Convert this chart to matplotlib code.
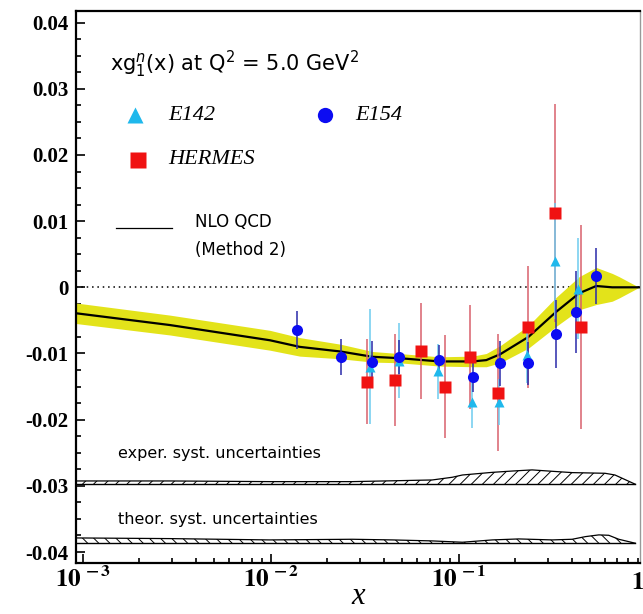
import matplotlib
matplotlib.use("Agg")
import matplotlib.pyplot as plt
from matplotlib.ticker import MultipleLocator, LogLocator, NullFormatter, FuncFormatter
import numpy as np

plt.rcParams["axes.unicode_minus"] = False
plt.rcParams["mathtext.fontset"] = "stix"
plt.rcParams["hatch.linewidth"] = 0.7

# E142 (triangles)
e142_x = [0.0336, 0.048, 0.078, 0.1178, 0.1644, 0.23, 0.325, 0.432]
e142_y = [-0.0120, -0.0111, -0.0127, -0.0173, -0.0173, -0.0102, 0.0040, -0.0002]
e142_err = [0.0087, 0.0057, 0.0042, 0.0040, 0.0035, 0.0042, 0.0088, 0.0076]

# E154 (circles)
e154_x = [0.01387, 0.02356, 0.0344, 0.048, 0.079, 0.1187, 0.167, 0.2336, 0.329, 0.423, 0.54]
e154_y = [-0.00645, -0.0105, -0.01124, -0.01057, -0.0110, -0.01355, -0.0115, -0.0115, -0.00705, -0.0037, 0.00175]
e154_err = [0.0029, 0.0027, 0.0031, 0.0026, 0.0023, 0.0023, 0.0034, 0.0032, 0.0052, 0.0062, 0.0042]

# HERMES (squares)
hermes_x = [0.0325, 0.0461, 0.0634, 0.0847, 0.1153, 0.1625, 0.2336, 0.327, 0.4467]
hermes_y = [-0.01426, -0.0140, -0.00965, -0.0150, -0.01053, -0.0159, -0.00604, 0.0112, -0.00595]
hermes_err = [0.0064, 0.0069, 0.0073, 0.0078, 0.0078, 0.0088, 0.0092, 0.0165, 0.0154]

# NLO QCD (Method 2) curve and its error band half-width
nlo_x = [0.00091, 0.00291, 0.00991, 0.01429, 0.02355, 0.03483, 0.04797, 0.07907, 0.1186,
         0.1403, 0.1667, 0.2350, 0.3304, 0.4375, 0.5395, 0.6561, 0.715, 0.912]
nlo_y = [-0.0039, -0.0057, -0.0080, -0.0090, -0.0097, -0.0105, -0.0107, -0.0112, -0.0112,
         -0.0110, -0.0101, -0.0075, -0.0037, -0.0009, 0.0002, 0.0000, 0.0000, 0.0000]
nlo_err = [0.00155, 0.0015, 0.0015, 0.0014, 0.0011, 0.0008, 0.0007, 0.0007, 0.0008,
           0.0010, 0.0013, 0.0017, 0.0022, 0.0025, 0.0028, 0.0021, 0.0016, 0.0]

# systematic uncertainty bands (drawn as offsets above a baseline)
exp_base = -0.02976
exp_x = [0.00092, 0.0029, 0.0099, 0.0272, 0.0724, 0.0926, 0.1047, 0.151, 0.193, 0.246,
         0.315, 0.402, 0.601, 0.679, 0.871]
exp_h = [0.0005, 0.0005, 0.0004, 0.0004, 0.00065, 0.00106, 0.0014, 0.0018, 0.0020, 0.00217,
         0.00196, 0.00176, 0.00166, 0.0014, 0.0]
th_base = -0.03867
th_x = [0.00092, 0.0029, 0.0099, 0.0272, 0.0445, 0.0724, 0.1047, 0.151, 0.209, 0.315,
        0.402, 0.473, 0.557, 0.629, 0.711, 0.871]
th_h = [0.0008, 0.0007, 0.0005, 0.0006, 0.0005, 0.00035, 0.00015, 0.0005, 0.00065, 0.0005,
        0.0006, 0.0010, 0.00126, 0.0012, 0.0006, 0.0]

C_CYAN, C_CYAN_BAR = "#1fb8ec", "#6dcbef"
C_BLUE, C_BLUE_BAR = "#0c0cf2", "#2a2aaa"
C_RED, C_RED_BAR = "#f01212", "#d8606c"

fig = plt.figure(figsize=(6.43, 6.14), dpi=100)
ax = fig.add_axes([0.1177, 0.0826, 0.8776, 0.9000])
ax.set_xscale("log")
ax.set_xlim(0.000918, 0.922)
ax.set_ylim(-0.0417, 0.0418)

ax.axhline(0, color="black", lw=1.1, ls=(0, (1, 2.5)), zorder=1)

nx, ny, ne = map(np.asarray, (nlo_x, nlo_y, nlo_err))
ax.fill_between(nx, ny - ne, ny + ne, color="#e3e31a", lw=0, zorder=2)
ax.plot(nx, ny, color="black", lw=1.6, zorder=3)

for base, xs, hs, hatch in ((exp_base, exp_x, exp_h, "///"), (th_base, th_x, th_h, "\\\\\\")):
    xs, hs = np.asarray(xs), np.asarray(hs)
    ax.fill_between(xs, base, base + hs, facecolor="none", edgecolor="black", hatch=hatch, lw=0, zorder=2)
    ax.plot(xs, base + hs, color="black", lw=0.9, zorder=3)
    ax.plot([0.000918, 0.871], [base, base], color="black", lw=1.0, zorder=3)

ax.errorbar(hermes_x, hermes_y, yerr=hermes_err, fmt="none", ecolor=C_RED_BAR, elinewidth=1.1, zorder=4)
ax.errorbar(e142_x, e142_y, yerr=e142_err, fmt="none", ecolor=C_CYAN_BAR, elinewidth=1.1, zorder=5)
ax.errorbar(e154_x, e154_y, yerr=e154_err, fmt="none", ecolor=C_BLUE_BAR, elinewidth=1.1, zorder=6)
ax.plot(e142_x, e142_y, "^", color=C_CYAN, ms=7.5, mec="none", zorder=7)
ax.plot(hermes_x, hermes_y, "s", color=C_RED, ms=8, mec="none", zorder=8)
ax.plot(e154_x, e154_y, "o", color=C_BLUE, ms=8, mec="none", zorder=9)

# legend, placed as in the original
T = ax.transAxes
ax.text(0.061, 0.902, r"xg$_1^n$(x) at Q$^2$ = 5.0 GeV$^2$", transform=T, fontsize=15,
        va="center", math_fontfamily="dejavusans")
leg = dict(transform=T, clip_on=False, mec="none")
ax.plot(0.105, 0.811, "^", color=C_CYAN, ms=11, **leg)
ax.plot(0.442, 0.811, "o", color=C_BLUE, ms=11, **leg)
ax.plot(0.110, 0.730, "s", color=C_RED, ms=11, **leg)
lt = dict(transform=T, fontsize=16, family="Liberation Serif", style="italic", va="center")
ax.text(0.164, 0.811, "E142", **lt)
ax.text(0.495, 0.811, "E154", **lt)
ax.text(0.164, 0.730, "HERMES", **lt)
ax.plot([0.072, 0.171], [0.607, 0.607], color="black", lw=0.9, transform=T)
ax.text(0.212, 0.618, "NLO QCD", transform=T, fontsize=12, va="center")
ax.text(0.212, 0.567, "(Method 2)", transform=T, fontsize=12, va="center")
ax.text(0.075, 0.198, "exper. syst. uncertainties", transform=T, fontsize=11.5, va="center")
ax.text(0.075, 0.0796, "theor. syst. uncertainties", transform=T, fontsize=11.5, va="center")

# axes styling
for s in ("left", "bottom", "top"):
    ax.spines[s].set_linewidth(1.6)
ax.spines["right"].set_color("#999999")
ax.spines["right"].set_linewidth(1.0)
ax.yaxis.set_major_locator(MultipleLocator(0.01))
ax.yaxis.set_minor_locator(MultipleLocator(0.0025))
ax.yaxis.set_major_formatter(FuncFormatter(lambda v, p: "0" if abs(v) < 1e-9 else f"{v:.2f}"))
ax.set_xticks([1e-3, 1e-2, 1e-1])
ax.set_xticklabels([r"$\mathbf{10^{\,-3}}$", r"$\mathbf{10^{\,-2}}$", r"$\mathbf{10^{\,-1}}$"])
ax.xaxis.set_minor_locator(LogLocator(base=10, subs=np.arange(2, 10)))
ax.xaxis.set_minor_formatter(NullFormatter())
ax.tick_params(which="both", direction="in", top=False, right=False, width=1.2)
ax.tick_params(which="major", length=6.5)
ax.tick_params(which="minor", length=3.6)
ax.tick_params(axis="y", labelsize=15, pad=5)
ax.tick_params(axis="x", labelsize=18, pad=2)
for lab in ax.get_yticklabels():
    lab.set_family("Liberation Serif")
    lab.set_weight("bold")
ax.text(0.984, -0.012, r"$\mathbf{1}$", transform=T, fontsize=18, ha="left", va="top", clip_on=False)
fig.text(358 / 643, 1 - 597 / 614, "x", fontsize=22, family="Liberation Serif", style="italic",
         ha="center", va="center")

fig.savefig("out.png", dpi=100)
